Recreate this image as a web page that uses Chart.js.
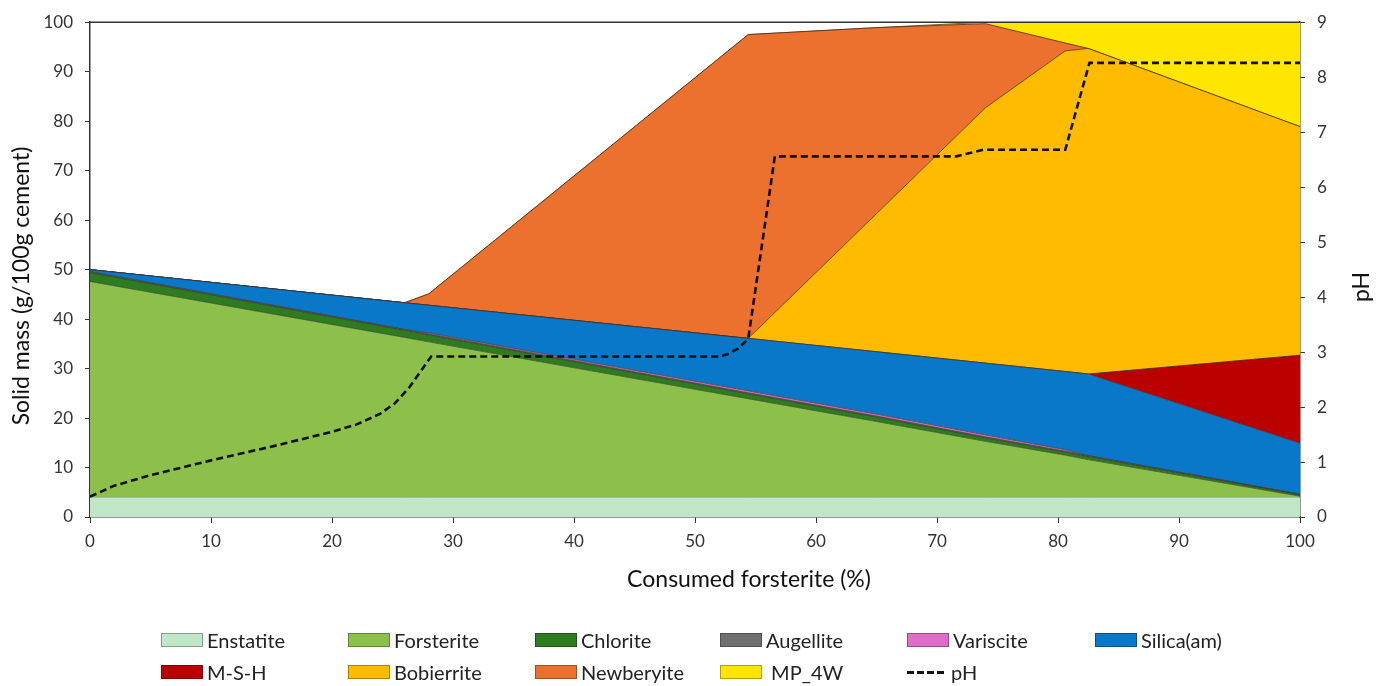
<!DOCTYPE html>
<html>
<head>
<meta charset="utf-8">
<script src="https://cdn.jsdelivr.net/npm/chart.js@4.4.1/dist/chart.umd.min.js"></script>
<style>
  body { margin: 0; background: #fff; }
  #wrap { position: relative; width: 1385px; height: 686px; }
  #legend { position: absolute; left: 0; top: 0; width: 1385px; height: 686px; pointer-events: none;
            font-family: Lato, "Open Sans", sans-serif; font-size: 20px; color: #222; }
  .item { position: absolute; display: flex; align-items: center; white-space: pre; }
  .box { width: 40px; height: 12px; border: 1px solid rgba(0,0,0,0.3); margin-right: 4px; }
  .dash { width: 40px; height: 3px; margin-right: 4px;
          background: repeating-linear-gradient(90deg, #111 0 7px, transparent 7px 10px); }
</style>
</head>
<body>
<div id="wrap">
  <canvas id="myChart" width="1385" height="686"></canvas>
  <div id="legend"></div>
</div>
<script>
// x positions (consumed forsterite, %) shared by all the stacked phases
var xVals = [0, 26, 28, 54.4, 65, 74, 80.6, 82.5, 100];

// solid mass per phase (g/100g cement), stacked bottom to top
var enstatite  = [4, 4, 4, 4, 4, 4, 4, 4, 4];
var forsterite = [43.6, 32.3, 31.4, 19.9, 15.3, 11.3, 8.5, 7.6, 0.2];
var chlorite   = [1.8, 1.4, 1.4, 1.0, 0.9, 0.7, 0.6, 0.6, 0.3];
var augellite  = [0.2, 0.2, 0.2, 0.2, 0.2, 0.2, 0.2, 0.2, 0.1];
var variscite  = [0, 0, 0.2, 0.4, 0.4, 0.4, 0.3, 0, 0];
var silica     = [0.4, 5.4, 5.6, 10.6, 12.6, 14.5, 15.8, 16.5, 10.3];
var msh        = [0, 0, 0, 0, 0, 0, 0, 0, 17.8];
var bobierrite = [0, 0, 0, 0, 27.9, 51.6, 64.8, 65.8, 46.2];
var newberyite = [0, 0, 2.3, 61.4, 37.6, 17.0, 1.6, 0, 0];
var mp4w       = [0, 0, 0, 0, 0, 0.3, 4.2, 5.3, 21.1];

// pH curve (right axis)
var phX    = [0, 2, 5, 10, 15, 20, 22, 24, 25.2, 26.4, 28.2, 52, 52.8, 53.6, 54.4, 56.6, 71.6, 73.8, 80.6, 82.6, 100];
var phVals = [0.37, 0.57, 0.76, 1.03, 1.28, 1.55, 1.68, 1.88, 2.07, 2.36, 2.92, 2.92, 2.97, 3.07, 3.24, 6.56, 6.56, 6.68, 6.68, 8.26, 8.26];

var phases = [
  { label: 'Enstatite',  data: enstatite,  color: '#bfe6c6', line: '#7f9f85' },
  { label: 'Forsterite', data: forsterite, color: '#8cc04b', line: '#3b4a2a' },
  { label: 'Chlorite',   data: chlorite,   color: '#2e7b20', line: '#2a3a22' },
  { label: 'Augellite',  data: augellite,  color: '#707070', line: '#404040' },
  { label: 'Variscite',  data: variscite,  color: '#df6cc6', line: '#404040' },
  { label: 'Silica(am)', data: silica,     color: '#0a78c8', line: '#303a45' },
  { label: 'M-S-H',      data: msh,        color: '#bb0000', line: '#3a2020' },
  { label: 'Bobierrite', data: bobierrite, color: '#ffbb00', line: '#4a3a10' },
  { label: 'Newberyite', data: newberyite, color: '#ed712e', line: '#4a2a18' },
  { label: ' MP_4W',     data: mp4w,       color: '#ffe600', line: '#4a4410' }
];

function pts(xs, ys) {
  return xs.map(function (x, i) { return { x: x, y: ys[i] }; });
}

var datasets = phases.map(function (p, i) {
  return {
    label: p.label,
    data: pts(xVals, p.data),
    yAxisID: 'y',
    backgroundColor: p.color,
    borderColor: p.line,
    borderWidth: 0.8,
    pointRadius: 0,
    tension: 0,
    fill: i === 0 ? 'origin' : '-1'
  };
});

datasets.push({
  label: 'pH',
  data: pts(phX, phVals),
  yAxisID: 'y1',
  borderColor: '#111',
  borderWidth: 2.6,
  borderDash: [7, 4],
  pointRadius: 0,
  tension: 0,
  fill: false,
  order: -1
});

var tickFont = { family: 'Lato', size: 17 };
var tickColor = '#333';

var titles = {
  id: 'titles',
  afterDraw: function (chart) {
    var c = chart.ctx, a = chart.chartArea;
    c.save();
    c.strokeStyle = '#333';
    c.lineWidth = 1.5;
    c.beginPath();
    c.moveTo(a.left, a.top);
    c.lineTo(a.right, a.top);
    c.stroke();
    c.fillStyle = '#111';
    c.font = '23px Lato';
    c.textAlign = 'center';
    c.textBaseline = 'middle';
    c.fillText('Consumed forsterite (%)', 749, 580);
    c.translate(22, 286);
    c.rotate(-Math.PI / 2);
    c.fillText('Solid mass (g/100g cement)', 0, 0);
    c.restore();
    c.save();
    c.fillStyle = '#111';
    c.font = '23px Lato';
    c.textAlign = 'center';
    c.textBaseline = 'middle';
    c.translate(1362, 287);
    c.rotate(-Math.PI / 2);
    c.fillText('pH', 0, 0);
    c.restore();
  }
};

var ctx = document.getElementById('myChart');
var myChart = new Chart(ctx, {
  type: 'line',
  data: { datasets: datasets },
  options: {
    responsive: false,
    animation: false,
    layout: { padding: { top: 18, left: 0, right: 0, bottom: 0 } },
    plugins: { legend: { display: false }, tooltip: { enabled: false } },
    scales: {
      x: {
        type: 'linear', min: 0, max: 100, z: 1,
        ticks: { stepSize: 10, font: tickFont, color: tickColor, padding: 8 },
        grid: { drawOnChartArea: false, drawTicks: true, tickLength: 6, color: '#333' },
        border: { color: '#333', width: 1.5 },
        afterFit: function (s) { s.height = 169; }
      },
      y: {
        stacked: true, min: 0, max: 100, position: 'left', z: 1,
        ticks: { stepSize: 10, font: tickFont, color: tickColor, padding: 12 },
        grid: { drawOnChartArea: false, drawTicks: true, tickLength: 5, color: '#333' },
        border: { color: '#333', width: 1.5 },
        afterFit: function (s) { s.width = 90; }
      },
      y1: {
        min: 0, max: 9, position: 'right', z: 1,
        ticks: { stepSize: 1, font: tickFont, color: tickColor, padding: 12 },
        grid: { drawOnChartArea: false, drawTicks: true, tickLength: 5, color: '#333' },
        border: { color: '#333', width: 1.5 },
        afterFit: function (s) { s.width = 85; }
      }
    }
  },
  plugins: [titles]
});

// legend laid out in Excel-style columns
var colX = [161, 348, 535, 720, 907, 1095];
var rowY = [640, 672];
var legend = document.getElementById('legend');
var items = phases.map(function (p) { return { label: p.label, color: p.color }; });
items.push({ label: 'pH', dash: true });
items.forEach(function (it, i) {
  var el = document.createElement('div');
  el.className = 'item';
  el.style.left = colX[i % 6] + 'px';
  el.style.top = (rowY[Math.floor(i / 6)] - 12) + 'px';
  el.style.height = '24px';
  var sw = document.createElement('span');
  if (it.dash) {
    sw.className = 'dash';
  } else {
    sw.className = 'box';
    sw.style.background = it.color;
  }
  el.appendChild(sw);
  el.appendChild(document.createTextNode(it.label));
  legend.appendChild(el);
});
</script>
</body>
</html>
